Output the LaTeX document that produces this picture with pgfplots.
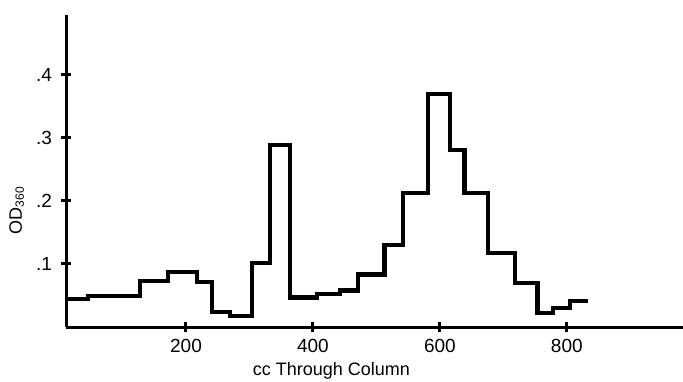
\documentclass[border=0pt]{standalone}
\usepackage{pgfplots}
\pgfplotsset{compat=1.18}
\usepackage{fontspec}
\setmainfont{Liberation Sans}
\begin{document}
\begin{tikzpicture}
\useasboundingbox (-33pt,-27pt) rectangle (308.5pt,163.5pt);
\begin{axis}[
  scale only axis,
  width=308.5pt, height=156pt,
  xmin=11, xmax=983, ymin=0, ymax=0.495,
  axis x line=bottom, axis y line=left,
  axis line style={-, line width=1.5pt},
  xtick={200,400,600,800},
  ytick={0.1,0.2,0.3,0.4},
  yticklabels={.1,.2,.3,.4},
  tick align=center,
  major tick length=5pt,
  tick style={line width=1.5pt, black},
  /pgf/number format/assume math mode=true,
  tick label style={font=\fontsize{9.5}{10}\selectfont},
  xlabel={cc Through Column},
  ylabel={OD\textsubscript{360}},
  label style={font=\fontsize{9}{10}\selectfont},
  xlabel style={at={(axis description cs:0.43,0)}, anchor=north, yshift=-14pt},
  ylabel style={at={(axis description cs:-0.08,0.375)}, anchor=center},
  xticklabel style={yshift=0pt},
  yticklabel style={xshift=-1pt},
]
\addplot[const plot mark left, black, line width=2.2pt, line join=miter] coordinates {
(11,0.044) (46,0.049) (128,0.073) (172,0.087) (217,0.071) (241,0.024)
(269,0.017) (304,0.102) (332,0.289) (364,0.047) (406,0.052) (443,0.058)
(471,0.083) (513,0.130) (542,0.213) (581,0.370) (616,0.281) (639,0.213)
(676,0.117) (718,0.070) (754,0.022) (778,0.030) (805,0.041) (833,0.041)
};
\end{axis}
\end{tikzpicture}
\end{document}
